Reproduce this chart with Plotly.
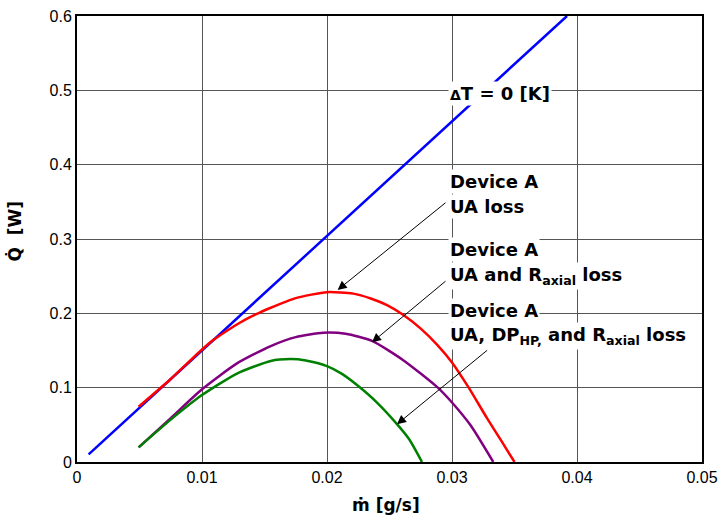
import plotly.graph_objects as go

# ---- data ----
m_dt0 = [0.00093, 0.0392]
q_dt0 = [0.0103, 0.600]

m_ua = [0.00493, 0.0075, 0.0100, 0.0109, 0.0125, 0.0135, 0.0145, 0.0155, 0.0175,
        0.0200, 0.0221, 0.0235, 0.0248, 0.0260, 0.0275, 0.0288, 0.0300, 0.0313,
        0.0328, 0.0340, 0.0350]
q_ua = [0.0744, 0.1117, 0.1513, 0.1640, 0.1820, 0.1920, 0.2000, 0.2075, 0.2205,
        0.2285, 0.2265, 0.2200, 0.2110, 0.1990, 0.1795, 0.1580, 0.1340, 0.1010,
        0.0590, 0.0270, 0.0]

m_uar = [0.00493, 0.0075, 0.0100, 0.0128, 0.0155, 0.0175, 0.0197, 0.0215, 0.0236,
         0.0261, 0.0288, 0.0300, 0.0315, 0.0333]
q_uar = [0.0197, 0.0590, 0.0978, 0.1327, 0.1560, 0.1680, 0.1740, 0.1725, 0.1630,
         0.1370, 0.1010, 0.0800, 0.0490, 0.0]

m_uadr = [0.00493, 0.0075, 0.0100, 0.0128, 0.0155, 0.0171, 0.0183, 0.0200, 0.0212,
          0.0224, 0.0240, 0.0256, 0.0266, 0.0276]
q_uadr = [0.0197, 0.0570, 0.0900, 0.1190, 0.1360, 0.1384, 0.1365, 0.1290, 0.1185,
          0.1035, 0.0800, 0.0510, 0.0300, 0.0]

x_ticks = [0, 0.01, 0.02, 0.03, 0.04, 0.05]
x_labels = ["0", "0.01", "0.02", "0.03", "0.04", "0.05"]
y_ticks = [0, 0.1, 0.2, 0.3, 0.4, 0.5, 0.6]
y_labels = ["0", "0.1", "0.2", "0.3", "0.4", "0.5", "0.6"]

FONT = "Liberation Sans, Arial, sans-serif"
LABEL_FONT = "DejaVu Sans, Liberation Sans, sans-serif"

fig = go.Figure()
fig.add_trace(go.Scatter(x=m_dt0, y=q_dt0, mode="lines",
                         line=dict(color="#0000ff", width=2.5)))
fig.add_trace(go.Scatter(x=m_ua, y=q_ua, mode="lines",
                         line=dict(color="#ff0000", width=2.5, shape="spline", smoothing=0.6)))
fig.add_trace(go.Scatter(x=m_uar, y=q_uar, mode="lines",
                         line=dict(color="#800080", width=2.5, shape="spline", smoothing=0.6)))
fig.add_trace(go.Scatter(x=m_uadr, y=q_uadr, mode="lines",
                         line=dict(color="#008000", width=2.5, shape="spline", smoothing=0.6)))

grid = "#555555"
fig.update_layout(
    width=718, height=519,
    margin=dict(l=77, r=16, t=16, b=57),
    paper_bgcolor="white", plot_bgcolor="white",
    showlegend=False,
    font=dict(family=FONT, size=16, color="black"),
    xaxis=dict(range=[0, 0.05], tickvals=x_ticks, ticktext=x_labels,
               showgrid=True, gridcolor=grid, gridwidth=1,
               showline=True, linecolor="black", linewidth=2, mirror=True,
               ticks="", zeroline=False, tickfont=dict(size=16), automargin=False,
               ticklabeloverflow="allow"),
    yaxis=dict(range=[0, 0.6], tickvals=y_ticks, ticktext=y_labels,
               showgrid=True, gridcolor=grid, gridwidth=1,
               showline=True, linecolor="black", linewidth=2, mirror=True,
               ticks="", zeroline=False, tickfont=dict(size=16), automargin=False,
               ticklabeloverflow="allow"),
)

bold = dict(family=LABEL_FONT, size=18, color="black", weight="bold")
title_font = dict(family=LABEL_FONT, size=17, color="black", weight="bold")
anns = []
# axis titles
anns.append(dict(xref="paper", yref="paper", x=-0.100, y=0.518, xanchor="center", yanchor="middle",
                 text="<b>Q\u0307\u00a0\u00a0[W]</b>", textangle=-90, showarrow=False,
                 font=title_font))
anns.append(dict(xref="paper", yref="paper", x=0.495, y=-0.097, xanchor="center", yanchor="middle",
                 text="<b>m\u0307 [g/s]</b>", showarrow=False, font=title_font))

# label lines: (text, y-centre in data units)
label_x = 0.02968
label_lines = [
    ("<span style='font-size:14px'>\u0394</span>T = 0 [K]", 0.4962),
    ("Device A", 0.3774),
    ("UA loss", 0.3437),
    ("Device A", 0.2853),
    ("UA and R<sub>axial</sub> loss", 0.2500),
    ("Device A", 0.2044),
    ("UA, DP<sub>HP,</sub> and R<sub>axial</sub> loss", 0.1700),
]
for txt, yy in label_lines:
    anns.append(dict(x=label_x, y=yy, xanchor="left", yanchor="middle", align="left",
                     text="<b>" + txt + "</b>", showarrow=False, bgcolor="white",
                     borderpad=1, font=bold))

# arrows
arrow_tips = [(0.02085, 0.2314), (0.0236, 0.1610), (0.0256, 0.0508)]
arrow_tails = [(0.0296, 0.3504), (0.0296, 0.2449), (0.03293, 0.1519)]
for (tx, ty), (sx, sy) in zip(arrow_tips, arrow_tails):
    anns.append(dict(x=tx, y=ty, ax=sx, ay=sy, axref="x", ayref="y", xref="x", yref="y",
                     text="", showarrow=True, arrowhead=2, arrowsize=1.8, arrowwidth=1,
                     arrowcolor="black", standoff=0, startstandoff=0))
fig.update_layout(annotations=anns)

# remove the default page margin so the figure sits at the window's top-left corner
fig.write_html("out.html", config={"displayModeBar": False},
               post_script="document.body.style.margin='0px';")
